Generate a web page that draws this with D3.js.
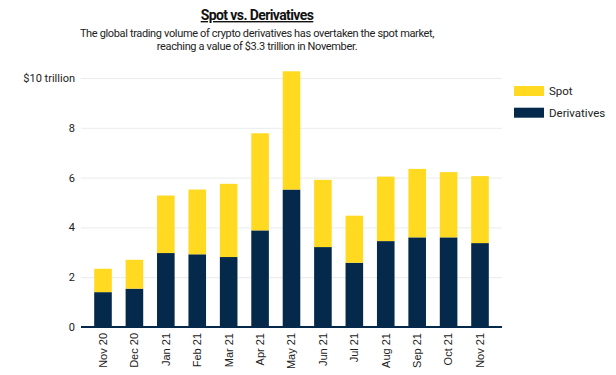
<!DOCTYPE html>
<html>
<head>
<meta charset="utf-8">
<script src="https://cdn.jsdelivr.net/npm/d3@7"></script>
<style>
  body { margin: 0; background: #fff; }
  svg text { font-family: "Roboto", "Noto Sans", sans-serif; }
  .grid line { stroke: #e9ebee; stroke-width: 1; }
  .grid .domain { display: none; }
  .y.axis .domain, .y.axis line { display: none; }
  .y.axis text { font-size: 11px; fill: #222; }
  .x.axis .domain, .x.axis line { display: none; }
  svg .x.axis text { font-family: "Liberation Sans", Arial, sans-serif; font-size: 11px; fill: #222; }
</style>
</head>
<body>
<div id="chart"></div>
<script>
// Data
const months = ["Nov 20", "Dec 20", "Jan 21", "Feb 21", "Mar 21", "Apr 21", "May 21",
                "Jun 21", "Jul 21", "Aug 21", "Sep 21", "Oct 21", "Nov 21"];
const derivatives = [1.40, 1.54, 2.97, 2.92, 2.81, 3.88, 5.52, 3.21, 2.58, 3.45, 3.60, 3.60, 3.37];
const spot = [0.94, 1.16, 2.31, 2.60, 2.94, 3.90, 4.75, 2.70, 1.89, 2.59, 2.75, 2.62, 2.69];
const yTicks = [0, 2, 4, 6, 8, 10];
const seriesNames = ["Derivatives", "Spot"];
const colors = { Spot: "#ffda21", Derivatives: "#04294a" };

const W = 616, H = 375;
const margin = { top: 78, right: 114, bottom: 48, left: 81 },
    width = W - margin.left - margin.right,
    height = H - margin.top - margin.bottom;

const svgRoot = d3.select("#chart")
    .append("svg")
    .attr("width", W)
    .attr("height", H);

// Title
svgRoot.append("text")
    .attr("x", 257)
    .attr("y", 20)
    .attr("text-anchor", "middle")
    .style("font-size", "14px")
    .style("font-weight", "700")
    .style("letter-spacing", "-0.6px")
    .style("text-decoration", "underline")
    .style("fill", "#111")
    .text("Spot vs. Derivatives");

const subtitle = [
    "The global trading volume of crypto derivatives has overtaken the spot market,",
    "reaching a value of $3.3 trillion in November."
];
svgRoot.selectAll(".subtitle")
    .data(subtitle)
    .enter().append("text")
    .attr("class", "subtitle")
    .attr("x", 257)
    .attr("y", (d, i) => 37 + i * 12.5)
    .attr("text-anchor", "middle")
    .style("font-size", "11px")
    .style("letter-spacing", "-0.35px")
    .style("fill", "#222")
    .text(d => d);

const svg = svgRoot.append("g")
    .attr("transform", `translate(${margin.left},${margin.top})`);

// Scales
const x = d3.scaleBand()
    .domain(months)
    .range([0, width])
    .paddingInner(0.44)
    .paddingOuter(0.42);

const y = d3.scaleLinear()
    .domain([0, 10])
    .range([height, 0]);

// Grid
svg.append("g")
    .attr("class", "grid")
    .call(d3.axisLeft(y).tickValues(yTicks.slice(1)).tickSize(-width).tickFormat(""));

// Y Axis
svg.append("g")
    .attr("class", "y axis")
    .attr("transform", "translate(-3,0)")
    .call(d3.axisLeft(y).tickValues(yTicks).tickSize(0)
        .tickFormat(d => d === 10 ? "$10 trillion" : d));

// Stacked bars
const table = months.map((m, i) => ({ month: m, Derivatives: derivatives[i], Spot: spot[i] }));
const stacked = d3.stack().keys(seriesNames)(table);

svg.selectAll(".series")
    .data(stacked)
    .enter().append("g")
    .attr("class", "series")
    .attr("fill", d => colors[d.key])
    .selectAll("rect")
    .data(d => d)
    .enter().append("rect")
    .attr("x", d => x(d.data.month))
    .attr("y", d => y(d[1]))
    .attr("width", x.bandwidth())
    .attr("height", d => y(d[0]) - y(d[1]));

// Baseline
svg.append("line")
    .attr("x1", 0)
    .attr("x2", width)
    .attr("y1", y(0))
    .attr("y2", y(0))
    .attr("stroke", colors.Derivatives)
    .attr("stroke-width", 2);

// X Axis
svg.append("g")
    .attr("class", "x axis")
    .attr("transform", `translate(0,${height})`)
    .call(d3.axisBottom(x).tickSize(0))
    .selectAll("text")
    .attr("transform", "rotate(-90)")
    .attr("x", -6)
    .attr("y", 0)
    .attr("dy", "0.35em")
    .style("text-anchor", "end");

// Legend
const legend = svgRoot.append("g")
    .attr("transform", "translate(514,86)");

const legendItems = legend.selectAll(".legend-item")
    .data(["Spot", "Derivatives"])
    .enter().append("g")
    .attr("class", "legend-item")
    .attr("transform", (d, i) => `translate(0,${i * 21.7})`);

legendItems.append("rect")
    .attr("width", 30)
    .attr("height", 10)
    .attr("fill", d => colors[d]);

legendItems.append("text")
    .attr("x", 35)
    .attr("y", 5)
    .attr("dy", "0.35em")
    .style("font-size", "11.5px")
    .style("fill", "#222")
    .text(d => d);
</script>
</body>
</html>
